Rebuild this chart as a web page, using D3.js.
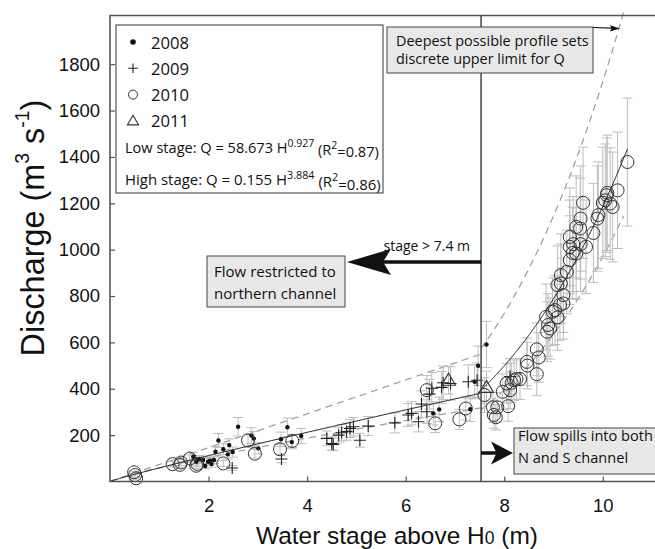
<!DOCTYPE html>
<html><head><meta charset="utf-8">
<script src="https://cdn.jsdelivr.net/npm/d3@7"></script>
<style>body{margin:0;background:#fff}svg{display:block}</style>
</head><body>
<svg id="chart" width="655" height="549"></svg>
<script>
// ---------- data ----------
const stage2008 = [1.69,1.75,1.81,1.89,1.93,1.99,2.03,2.06,2.11,2.14,2.20,2.30,2.39,2.42,2.49,2.60,2.87,2.92,3.01,3.47,3.60,3.69,3.88,6.56,6.68,7.31,7.40,7.47,7.64];
const q2008     = [107,85,96,93,67,85,90,75,93,128,177,139,117,157,127,236,198,185,143,182,234,170,196,294,311,312,430,499,591];
const err2008   = [18,14,16,16,12,14,15,13,16,22,30,24,20,27,22,40,34,31,24,31,40,29,33,50,53,53,73,85,100];

const stage2009 = [2.48,3.48,4.40,4.50,4.53,4.64,4.70,4.80,4.87,4.94,5.07,5.24,5.78,6.05,6.12,6.26,6.32,6.43,6.48,6.53,6.73,6.76,6.91,7.27,7.45,8.12];
const q2009     = [58,97,186,164,160,200,210,215,229,236,178,239,253,287,294,258,334,301,377,402,406,426,423,430,437,453];
const err2009   = [10,16,32,28,27,34,36,37,39,40,30,41,43,49,50,44,57,51,64,68,69,72,72,73,74,77];

const stage2010 = [0.49,0.51,0.53,1.27,1.42,1.44,1.62,1.75,1.77,2.30,2.80,2.94,3.45,3.70,6.43,6.60,7.09,7.22,
  7.60,7.77,7.79,7.83,7.86,7.97,8.05,8.08,8.12,8.15,8.20,8.25,8.32,8.46,8.47,8.66,8.66,8.70,8.85,8.87,8.89,8.93,
  8.98,9.03,9.08,9.08,9.13,9.15,9.15,9.20,9.20,9.27,9.33,9.33,9.33,9.39,9.40,9.46,9.46,9.54,9.55,9.55,9.60,9.66,
  9.81,9.89,9.91,10.00,10.05,10.08,10.09,10.15,10.20,10.30,10.50];
const q2010 = [40,28,14,75,72,82,99,68,76,78,177,120,139,175,394,251,268,315,
  373,320,287,277,320,387,423,325,394,426,437,442,442,516,500,463,570,535,710,646,675,660,
  732,739,708,847,761,854,890,768,804,904,955,1012,1055,986,1024,983,1098,1091,1024,1134,1202,1012,
  1072,1134,1149,1202,1213,1235,1245,1199,1184,1256,1378];
const err2010 = [5,5,4,12,12,13,16,11,12,13,28,19,22,28,63,40,43,50,
  75,64,57,55,64,77,85,65,79,85,87,88,88,103,100,93,114,107,142,129,135,132,
  146,148,142,169,152,171,178,154,161,181,191,202,211,197,205,197,220,218,205,227,240,202,
  214,227,230,240,243,247,249,240,237,251,276];

const stage2011 = [6.87,7.64];
const q2011     = [437,406];
const err2011   = [60,70];

const xTicks = [2,4,6,8,10];
const yTicks = [200,400,600,800,1000,1200,1400,1600,1800];
const legendYears = ["2008","2009","2010","2011"];

// rating-curve parameters (from legend) and envelopes
const breakStage = 7.53;
const lowFit   = [58.673, 0.927];
const highFit  = [0.155, 3.884];
const lowUpper = [73, 1.0],     lowLower  = [58.4, 0.839];
const highUpper= [0.2253, 3.884], highLower = [0.0905, 4.03];
const highEnd = 10.5, envEnd = 10.42;

// ---------- chart ----------
const svg = d3.select("#chart");
const x = d3.scaleLinear().domain([0, 11.1]).range([110, 657]);
const y = d3.scaleLinear().domain([0, 2010]).range([481.5, 15.5]);
const AX = "Liberation Sans, Arial, Helvetica, sans-serif";
const TX = "Open Sans, Noto Sans, sans-serif";

function fitW(sel, w){ const L = sel.node().getComputedTextLength(); const f = parseFloat(sel.attr("font-size")); sel.attr("font-size", f*w/L); return sel; }

const plot = svg.append("g");
const pw = (p, a, b) => d3.range(a, b + 1e-9, (b-a)/200).map(h => [h, p[0]*Math.pow(h, p[1])]);
const line = d3.line().x(d => x(d[0])).y(d => y(d[1]));

// dashed envelopes
[[lowUpper,0.001,breakStage],[lowLower,0.001,breakStage],[highUpper,breakStage,envEnd],[highLower,breakStage,envEnd]].forEach(([p,a,b])=>{
  plot.append("path").attr("d", line(pw(p,a,b))).attr("fill","none").attr("stroke","#9a9a9a").attr("stroke-width",1.2).attr("stroke-dasharray","7,5");
});

const series = [
  {h:stage2008,q:q2008,e:err2008,t:"dot"},
  {h:stage2009,q:q2009,e:err2009,t:"plus"},
  {h:stage2010,q:q2010,e:err2010,t:"circle"},
  {h:stage2011,q:q2011,e:err2011,t:"tri"}
];

// error bars
const eb = plot.append("g").attr("stroke","#bdbdbd").attr("stroke-width",1).attr("fill","none");
series.forEach(s => s.h.forEach((h,i)=>{
  const cx = x(h), y1 = y(s.q[i]+s.e[i]), y2 = y(Math.max(0,s.q[i]-s.e[i]));
  eb.append("line").attr("x1",cx).attr("x2",cx).attr("y1",y1).attr("y2",y2);
  eb.append("line").attr("x1",cx-5).attr("x2",cx+5).attr("y1",y1).attr("y2",y1);
  eb.append("line").attr("x1",cx-5).attr("x2",cx+5).attr("y1",y2).attr("y2",y2);
}));

// fit lines
plot.append("path").attr("d", line(pw(lowFit,0.001,breakStage))).attr("fill","none").attr("stroke","#222").attr("stroke-width",1);
plot.append("path").attr("d", line(pw(highFit,breakStage,highEnd))).attr("fill","none").attr("stroke","#222").attr("stroke-width",1);

// symbols
function sym(g, t, cx, cy, big){
  const k = big ? 1 : 0.8;
  if (t==="dot") g.append("circle").attr("cx",cx).attr("cy",cy).attr("r",big?2.2:2.8).attr("fill","#111");
  else if (t==="plus") g.append("path").attr("d",`M${cx-6*k},${cy}H${cx+6*k}M${cx},${cy-6*k}V${cy+6*k}`).attr("stroke","#222").attr("stroke-width",1.1).attr("fill","none");
  else if (t==="circle") g.append("circle").attr("cx",cx).attr("cy",cy).attr("r",big?6.5:4.5).attr("fill","none").attr("stroke","#333").attr("stroke-width",1);
  else g.append("path").attr("d",`M${cx},${cy-7*k}L${cx+7*k},${cy+5*k}L${cx-7*k},${cy+5*k}Z`).attr("fill","none").attr("stroke","#333").attr("stroke-width",1.1);
}
const sg = plot.append("g");
series.forEach(s => s.h.forEach((h,i)=> sym(sg, s.t, x(h), y(s.q[i]), true)));

// axes
const xa = svg.append("g").attr("transform","translate(0,481.5)")
  .call(d3.axisBottom(x).tickValues(xTicks).tickSizeInner(-5).tickSizeOuter(0).tickPadding(17).tickFormat(d3.format("d")));
const ya = svg.append("g").attr("transform","translate(110,0)")
  .call(d3.axisLeft(y).tickValues(yTicks).tickSizeInner(-5).tickSizeOuter(0).tickPadding(10).tickFormat(d3.format("d")));
[xa,ya].forEach(a=>{
  a.select(".domain").remove();
  a.selectAll("line").attr("stroke","#555").attr("stroke-width",1.2);
  a.selectAll("text").attr("font-family",AX).attr("font-size",18.5).attr("fill","#111");
});
// frame
svg.append("path").attr("d","M655,15.5H110V481.5H657").attr("fill","none").attr("stroke","#555").attr("stroke-width",1.6);
// stage break
svg.append("line").attr("x1",x(breakStage)).attr("x2",x(breakStage)).attr("y1",15.5).attr("y2",481.5).attr("stroke","#444").attr("stroke-width",1.5);

// axis titles
const xt = svg.append("text").attr("x",397).attr("y",543.5).attr("text-anchor","middle").attr("font-family",AX).attr("font-size",24).attr("fill","#111");
xt.append("tspan").text("Water stage above H");
xt.append("tspan").attr("font-size","0.72em").text("0");
xt.append("tspan").text(" (m)");
fitW(xt, 282);
const yt = svg.append("text").attr("transform","translate(44,228) rotate(-90)").attr("text-anchor","middle").attr("font-family",AX).attr("font-size",26).attr("fill","#111");
yt.append("tspan").text("Discharge (m");
yt.append("tspan").attr("font-size","0.6em").attr("dy","-0.75em").text("3");
yt.append("tspan").attr("dy","0.45em").text(" s");
yt.append("tspan").attr("font-size","0.6em").attr("dy","-0.75em").text("-1");
yt.append("tspan").attr("dy","0.45em").text(")");
fitW(yt, 257);

// legend
const lg = svg.append("g");
lg.append("rect").attr("x",116).attr("y",25).attr("width",267).attr("height",168).attr("fill","#fff").attr("stroke","#333").attr("stroke-width",1);
const legendTypes = ["dot","plus","circle","tri"];
legendYears.forEach((yr,i)=>{
  const cy = 42 + i*26.3;
  sym(lg, legendTypes[i], 133, cy, false);
  const t = lg.append("text").attr("x",151).attr("y",cy+6.5).attr("font-family",TX).attr("font-size",18).attr("fill","#111").text(yr);
  if (i===0) fitW(t, 38);
  else t.attr("font-size", lg.select("text").attr("font-size"));
});
function eqn(yb, label, coef, ex, r2, w){
  const t = lg.append("text").attr("x",125).attr("y",yb).attr("font-family",TX).attr("font-size",15).attr("fill","#111");
  t.append("tspan").text(`${label}: Q = ${coef} H`);
  t.append("tspan").attr("font-size","0.72em").attr("dy","-0.55em").text(ex);
  t.append("tspan").attr("dy","0.55em").text(" (R");
  t.append("tspan").attr("font-size","0.72em").attr("dy","-0.55em").text("2");
  t.append("tspan").attr("dy","0.55em").text(`=${r2})`);
  fitW(t, w);
}
eqn(153, "Low stage", "58.673", "0.927", "0.87", 254);
eqn(185, "High stage", "0.155", "3.884", "0.86", 256);

// annotations
function box(x0,y0,w,h){ svg.append("rect").attr("x",x0).attr("y",y0).attr("width",w).attr("height",h).attr("fill","#e8e8e8").attr("stroke","#444").attr("stroke-width",1); }
function lines(x0, ys, arr, w){
  let fs = null;
  arr.forEach((s,i)=>{
    const t = svg.append("text").attr("x",x0).attr("y",ys[i]).attr("font-family",TX).attr("font-size",15).attr("fill","#111").text(s);
    if (i===0) { fitW(t, w); fs = t.attr("font-size"); } else t.attr("font-size", fs);
  });
}
box(387,27,206,46);
lines(396,[46,64],["Deepest possible profile sets","discrete upper limit for Q"],193);
svg.append("line").attr("x1",593).attr("y1",27.5).attr("x2",612).attr("y2",28.2).attr("stroke","#111").attr("stroke-width",1.2);
svg.append("path").attr("d","M620,28.5L610,25.2L611.5,28.3L610,31.6Z").attr("fill","#111");

box(207,256,138,51);
lines(214,[277,299],["Flow restricted to","northern channel"],122);
svg.append("text").attr("x",470).attr("y",251).attr("text-anchor","end").attr("font-family",TX).attr("font-size",14).attr("fill","#111").text("stage > 7.4 m");
svg.append("line").attr("x1",x(breakStage)).attr("x2",380).attr("y1",262).attr("y2",262).attr("stroke","#111").attr("stroke-width",3.5);
svg.append("path").attr("d","M347,262L391,249L383,262L391,275Z").attr("fill","#111");

box(514,428,142,46);
lines(518,[441,463],["Flow spills into both","N and S channel"],135);
svg.append("line").attr("x1",x(breakStage)).attr("x2",497).attr("y1",453).attr("y2",453).attr("stroke","#111").attr("stroke-width",3.5);
svg.append("path").attr("d","M513,453L491,441.5L496.5,453L491,464.5Z").attr("fill","#111");
</script>
</body></html>
